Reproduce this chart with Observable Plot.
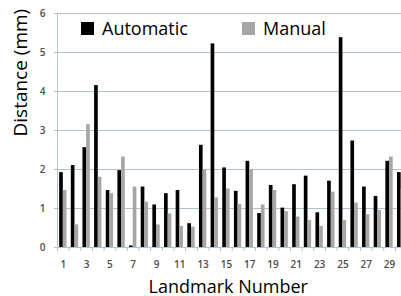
<!DOCTYPE html>
<html>
<head>
<meta charset="utf-8">
<script src="https://cdn.jsdelivr.net/npm/d3@7"></script>
<script src="https://cdn.jsdelivr.net/npm/@observablehq/plot@0.6"></script>
<style>
  html, body { margin: 0; padding: 0; background: #fff; }
  #chart svg { display: block; }
</style>
</head>
<body>
<div id="chart"></div>
<script>
const landmarks = [1,2,3,4,5,6,7,8,9,10,11,12,13,14,15,16,17,18,19,20,21,22,23,24,25,26,27,28,29,30];
const automatic = [1.92,2.10,2.56,4.15,1.46,1.97,0.04,1.55,1.09,1.38,1.46,0.61,2.62,5.22,2.04,1.44,2.21,0.87,1.59,1.01,1.61,1.83,0.89,1.70,5.38,2.73,1.55,1.31,2.21,1.92];
const manual    = [1.46,0.58,3.15,1.80,1.38,2.32,1.55,1.16,0.58,0.86,0.54,0.52,1.99,1.27,1.50,1.10,2.00,1.09,1.46,0.92,0.78,0.69,0.54,1.42,0.69,1.14,0.84,0.95,2.32,1.50];
const xTickLabels = [1,3,5,7,9,11,13,15,17,19,21,23,25,27,29];
const yTicks = [0,1,2,3,4,5,6];
const seriesNames = ["Automatic","Manual"];
const seriesColors = ["#000000","#a6a6a6"];
const xTitle = "Landmark Number";
const yTitle = "Distance (mm)";

const data = landmarks.map((l, i) => ({landmark: l, automatic: automatic[i], manual: manual[i]}));

const W = 401, H = 296;
const mL = 57, mR = -5.5, mT = 13, mB = 49;
const step = (W - mR - mL) / landmarks.length;
const padInner = 0.37;
const half = step * (1 - padInner) / 2;
const gridColor = "#b3c2cf";
const tickColor = "#4d4d4d";

const chart = Plot.plot({
  width: W, height: H,
  marginLeft: mL, marginRight: mR, marginTop: mT, marginBottom: mB,
  style: {fontFamily: "Open Sans", background: "#ffffff"},
  x: {type: "band", domain: landmarks, paddingInner: padInner, paddingOuter: padInner / 2, round: false, axis: null},
  y: {domain: [0, 6], axis: null},
  marks: [
    Plot.gridY(yTicks, {stroke: gridColor, strokeOpacity: 1, strokeWidth: 1, insetLeft: -3}),
    Plot.ruleX(landmarks, {x: d => d, y1: 0, y2: 0, dx: -step / 2, insetBottom: -4, stroke: gridColor, strokeWidth: 1}),
    Plot.frame({anchor: "left", stroke: gridColor}),
    Plot.barY(data, {x: "landmark", y: "automatic", fill: seriesColors[0], insetRight: half}),
    Plot.barY(data, {x: "landmark", y: "manual", fill: seriesColors[1], insetLeft: half}),
    Plot.axisY(yTicks, {tickSize: 0, tickPadding: 12, fontSize: 10, fontWeight: 600, fill: tickColor, label: null, tickFormat: d => String(d)}),
    Plot.axisX(xTickLabels, {tickSize: 0, tickPadding: 13, fontSize: 10, fontWeight: 600, fill: tickColor, label: null, tickFormat: d => String(d)}),
    Plot.text([xTitle], {text: d => d, frameAnchor: "bottom", dx: -4, dy: 45, lineAnchor: "bottom", fontSize: 18, fill: "#000"}),
    Plot.text([yTitle], {text: d => d, frameAnchor: "left", dx: -37, dy: 6, rotate: -90, lineAnchor: "middle", fontSize: 19, fill: "#000"})
  ]
});

document.getElementById("chart").appendChild(chart);

// Legend inside the plot area, like the original
const svg = d3.select(chart);
const legendX = [81, 242];
const lg = svg.append("g").attr("font-family", "Open Sans").attr("font-size", 18).attr("text-anchor", "start");
seriesNames.forEach((name, i) => {
  lg.append("rect").attr("x", legendX[i]).attr("y", 22).attr("width", 13).attr("height", 13).attr("fill", seriesColors[i]);
  lg.append("text").attr("x", legendX[i] + 21).attr("y", 35).attr("fill", "#000").text(name);
});
</script>
</body>
</html>
